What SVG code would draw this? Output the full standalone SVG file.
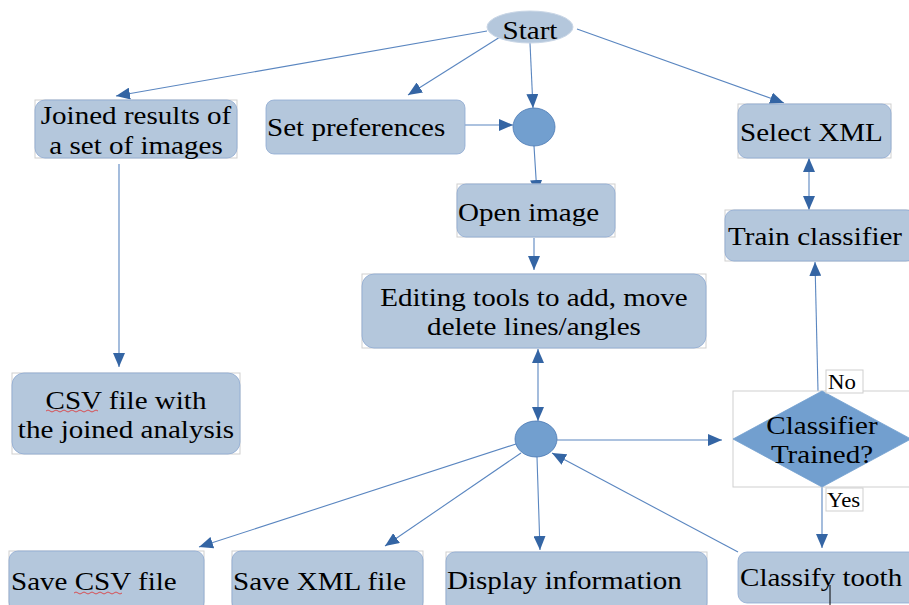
<svg xmlns="http://www.w3.org/2000/svg" width="909" height="605" viewBox="0 0 909 605">
<style>
.box{fill:#b4c7dc;stroke:#8eaad2;stroke-width:0.8}
.frame{fill:none;stroke:#cfcfcf;stroke-width:1}
.dot{fill:#729fcf;stroke:#4a78b4;stroke-width:0.8}
.t{font-family:"Liberation Serif","Times New Roman",serif;font-size:25.5px;fill:#000}
.c{text-anchor:middle}
.lbl{font-family:"Liberation Serif","Times New Roman",serif;font-size:20px;fill:#000}
.edge{fill:none;stroke:#5a86c0;stroke-width:1.1}
</style>
<defs>
<marker id="arr" viewBox="0 0 14 12" refX="14" refY="6" markerWidth="14" markerHeight="12" markerUnits="userSpaceOnUse" orient="auto-start-reverse">
<path d="M0,0 L14,6 L0,12 Z" fill="#3465a4"/>
</marker>
</defs>
<rect width="909" height="605" fill="#fff"/>

<g id="connectors">
<line class="edge" x1="487" y1="31" x2="116" y2="96" marker-end="url(#arr)"/>
<line class="edge" x1="500" y1="37" x2="408" y2="95" marker-end="url(#arr)"/>
<line class="edge" x1="530" y1="43" x2="533" y2="108" marker-end="url(#arr)"/>
<line class="edge" x1="577" y1="29" x2="784" y2="103" marker-end="url(#arr)"/>
<line class="edge" x1="465" y1="125" x2="513" y2="125" marker-end="url(#arr)"/>
<line class="edge" x1="534" y1="146" x2="537" y2="194" marker-end="url(#arr)"/>
<line class="edge" x1="534" y1="238" x2="534" y2="270" marker-end="url(#arr)"/>
<line class="edge" x1="538" y1="349" x2="538" y2="421" marker-start="url(#arr)" marker-end="url(#arr)"/>
<line class="edge" x1="557" y1="440" x2="722" y2="440" marker-end="url(#arr)"/>
<line class="edge" x1="516" y1="444" x2="199" y2="547" marker-end="url(#arr)"/>
<line class="edge" x1="521" y1="453" x2="385" y2="546" marker-end="url(#arr)"/>
<line class="edge" x1="537" y1="457" x2="540" y2="550" marker-end="url(#arr)"/>
<line class="edge" x1="738" y1="552" x2="552" y2="453" marker-end="url(#arr)"/>
<line class="edge" x1="822" y1="487" x2="822" y2="548" marker-end="url(#arr)"/>
<line class="edge" x1="818" y1="391" x2="815" y2="262" marker-end="url(#arr)"/>
<line class="edge" x1="809" y1="158" x2="809" y2="210" marker-start="url(#arr)" marker-end="url(#arr)"/>
<line class="edge" x1="119" y1="164" x2="119" y2="367" marker-end="url(#arr)"/>
</g>

<g id="start">
<ellipse cx="530" cy="27" rx="43" ry="16" fill="#b4c7dc" stroke="#c9d6e6" stroke-width="1"/>
<text class="t c" transform="translate(530,39) scale(1.14,1)">Start</text>
</g>

<g id="joined">
<rect class="frame" x="35" y="100" width="202" height="58"/>
<rect class="box" x="35" y="100" width="202" height="58" rx="10"/>
<text class="t c" transform="translate(136,124) scale(1.14,1)">Joined results of</text>
<text class="t c" transform="translate(136,154) scale(1.14,1)">a set of images</text>
</g>

<g id="setprefs">
<rect class="box" x="266" y="100" width="199" height="54" rx="8"/>
<text class="t" transform="translate(267,136) scale(1.14,1)">Set preferences</text>
</g>

<g id="merge1">
<ellipse class="dot" cx="534" cy="127" rx="21" ry="19"/>
</g>

<g id="selectxml">
<rect class="frame" x="738" y="104" width="153" height="54"/>
<rect class="box" x="738" y="104" width="153" height="54" rx="9"/>
<text class="t" transform="translate(740,141) scale(1.14,1)">Select XML</text>
</g>

<g id="openimage">
<rect class="frame" x="457" y="184" width="158" height="53"/>
<rect class="box" x="457" y="184" width="158" height="53" rx="9"/>
<text class="t" transform="translate(458,221) scale(1.14,1)">Open image</text>
</g>

<g id="train">
<rect class="frame" x="725" y="210" width="190" height="51"/>
<rect class="box" x="725" y="210" width="190" height="51" rx="9"/>
<text class="t" transform="translate(728,245) scale(1.14,1)">Train classifier</text>
</g>

<g id="editing">
<rect class="frame" x="362" y="274" width="344" height="74"/>
<rect class="box" x="362" y="274" width="344" height="74" rx="12"/>
<text class="t c" transform="translate(534,306) scale(1.14,1)">Editing tools to add, move</text>
<text class="t c" transform="translate(534,335) scale(1.14,1)">delete lines/angles</text>
</g>

<g id="csvjoined">
<rect class="frame" x="12" y="373" width="228" height="81"/>
<rect class="box" x="12" y="373" width="228" height="81" rx="12"/>
<text class="t c" transform="translate(126,409) scale(1.14,1)">CSV file with</text>
<text class="t c" transform="translate(126,438) scale(1.14,1)">the joined analysis</text>
<path d="M46,411 q2,-2 4,0 t4,0 t4,0 t4,0 t4,0 t4,0 t4,0 t4,0 t4,0 t4,0 t4,0 t4,0 t4,0" fill="none" stroke="#e03030" stroke-width="0.8"/>
</g>

<g id="merge2">
<ellipse class="dot" cx="536" cy="439" rx="21" ry="18"/>
</g>

<g id="decision">
<rect class="frame" x="733" y="391" width="180" height="96"/>
<polygon points="733,439 822,391 911,439 822,487" fill="#729fcf" stroke="#729fcf" stroke-width="0.8"/>
<text class="t c" transform="translate(822,434) scale(1.14,1)">Classifier</text>
<text class="t c" transform="translate(822,463) scale(1.14,1)">Trained?</text>
</g>

<g id="label-no">
<rect x="826" y="370" width="37" height="23" fill="#fff" stroke="#cfcfcf" stroke-width="1"/>
<text class="lbl" transform="translate(828,389) scale(1.14,1)">No</text>
</g>

<g id="label-yes">
<rect x="826" y="488" width="37" height="23" fill="#fff" stroke="#cfcfcf" stroke-width="1"/>
<text class="lbl" transform="translate(827,507) scale(1.14,1)">Yes</text>
</g>

<g id="savecsv">
<rect class="frame" x="9" y="551" width="195" height="60"/>
<rect class="box" x="9" y="551" width="195" height="60" rx="9"/>
<text class="t" transform="translate(11,590) scale(1.14,1)">Save CSV file</text>
<path d="M74,593 q2,-2 4,0 t4,0 t4,0 t4,0 t4,0 t4,0 t4,0 t4,0 t4,0 t4,0 t4,0 t4,0" fill="none" stroke="#e03030" stroke-width="0.8"/>
</g>

<g id="savexml">
<rect class="frame" x="232" y="551" width="191" height="60"/>
<rect class="box" x="232" y="551" width="191" height="60" rx="9"/>
<text class="t" transform="translate(233,590) scale(1.14,1)">Save XML file</text>
</g>

<g id="display">
<rect class="frame" x="446" y="552" width="261" height="60"/>
<rect class="box" x="446" y="552" width="261" height="60" rx="9"/>
<text class="t" transform="translate(447,589) scale(1.14,1)">Display information</text>
</g>

<g id="classify">
<rect class="box" x="738" y="552" width="180" height="51" rx="9"/>
<text class="t" transform="translate(740,586) scale(1.14,1)">Classify tooth</text>
<line x1="830" y1="585" x2="830" y2="605" stroke="#000" stroke-width="1"/>
</g>
</svg>
